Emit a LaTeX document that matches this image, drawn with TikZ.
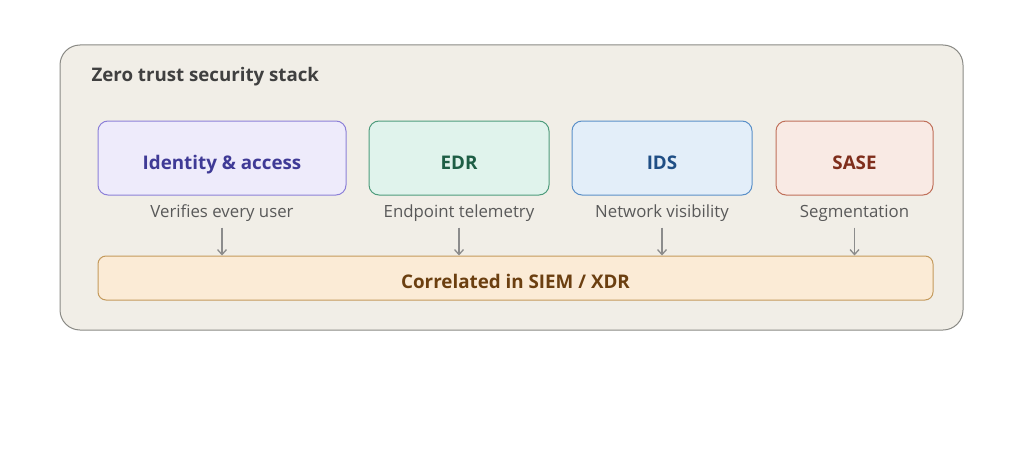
\documentclass[tikz,border=0pt]{standalone}
\usepackage{fontspec}
\setmainfont{Open Sans}
\usetikzlibrary{positioning,arrows.meta}
\definecolor{panelfill}{HTML}{F1EEE7}
\definecolor{panelline}{HTML}{8A8A85}
\definecolor{idfill}{HTML}{EEEBFB}\definecolor{idline}{HTML}{8C80D8}\definecolor{idtext}{HTML}{3F3A96}
\definecolor{edrfill}{HTML}{E0F3EC}\definecolor{edrline}{HTML}{4E9C7C}\definecolor{edrtext}{HTML}{1E5E45}
\definecolor{idsfill}{HTML}{E3EEF9}\definecolor{idsline}{HTML}{5A8FC8}\definecolor{idstext}{HTML}{1F4E85}
\definecolor{sasefill}{HTML}{F9EAE4}\definecolor{saseline}{HTML}{C0705A}\definecolor{sasetext}{HTML}{7F2E1C}
\definecolor{siemfill}{HTML}{FBEBD6}\definecolor{siemline}{HTML}{C49A5C}\definecolor{siemtext}{HTML}{6B3F10}
\newcommand{\lowered}[2]{\raisebox{#1}[0pt][0pt]{#2}}
\tikzset{
  tool/.style={draw, line width=1pt, rounded corners=10pt, minimum height=74pt, font=\fontsize{18.8}{20}\selectfont\bfseries, inner sep=0pt},
  note/.style={text=black!65, font=\fontsize{16.8}{18}\selectfont, inner sep=2pt},
  feed/.style={draw=black!45, line width=1.3pt, -{Straight Barb[length=5pt,width=9pt]}}
}
\begin{document}
\begin{tikzpicture}[x=1pt,y=-1pt]
\useasboundingbox (0,0) rectangle (1024,452);
\draw[draw=panelline, fill=panelfill, line width=1pt, rounded corners=20pt] (60,45) rectangle (963,330);
\node[anchor=west, text=black!75, font=\fontsize{18.7}{20}\selectfont\bfseries] (title) at (88,77) {Zero trust security stack};

\node[tool, fill=idfill, draw=idline, text=idtext, minimum width=248pt] (id) at (222,158) {\lowered{-11pt}{Identity \& access}};
\node[tool, fill=edrfill, draw=edrline, text=edrtext, minimum width=180pt] (edr) at (459,158) {\lowered{-11pt}{EDR}};
\node[tool, fill=idsfill, draw=idsline, text=idstext, minimum width=180pt] (ids) at (662,158) {\lowered{-11pt}{IDS}};
\node[tool, fill=sasefill, draw=saseline, text=sasetext, minimum width=157pt] (sase) at (854.5,158) {\lowered{-11pt}{SASE}};

\node[draw=siemline, fill=siemfill, text=siemtext, line width=1pt, rounded corners=8pt, minimum width=835pt, minimum height=44pt, font=\fontsize{18.8}{20}\selectfont\bfseries] (siem) at (515.5,278) {\lowered{-10pt}{Correlated in SIEM / XDR}};

\foreach \src/\txt in {id/Verifies every user, edr/Endpoint telemetry, ids/Network visibility, sase/Segmentation}{
  \node[note] (\src-note) at ([yshift=-18pt]\src.south) {\txt};
  \draw[feed] ([yshift=-14pt]\src-note.center) -- (\src.south |- siem.north);
}
\end{tikzpicture}
\end{document}
